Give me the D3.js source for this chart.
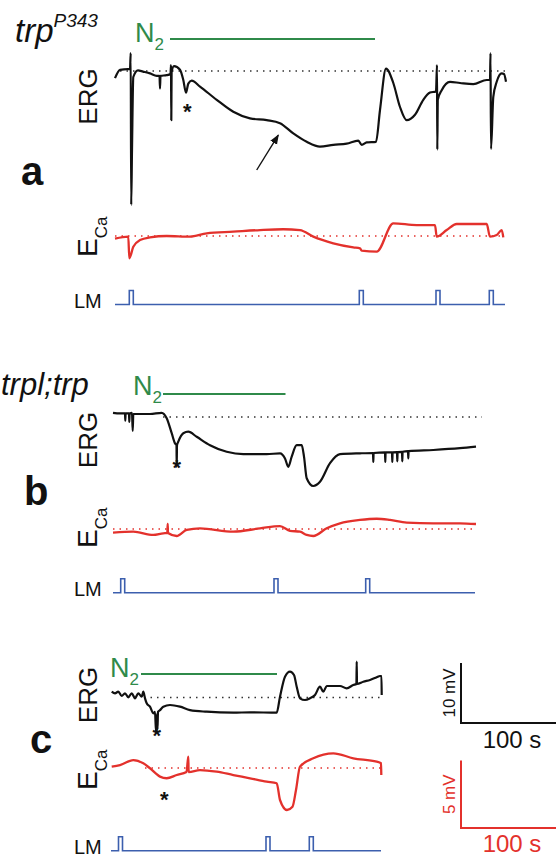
<!DOCTYPE html>
<html>
<head>
<meta charset="utf-8">
<script src="https://cdn.jsdelivr.net/npm/d3@7/dist/d3.min.js"></script>
<style>
  body { margin: 0; background: #fff; }
  svg { display: block; font-family: 'Liberation Sans', Arial, Helvetica, sans-serif; }
</style>
</head>
<body>
<svg id="fig" width="556" height="857"></svg>
<script>
// traces: [time (s), mV relative to the dotted baseline]
const ergA = [[0,-1.2],[5,0.2],[13,0.3],[15,0.3],[15.7,3.0],[16.2,-22.3],[17,-13.2],[18.3,-1.0],[23,0.1],[28,-0.1],[35,-0.4],[41.7,-0.8],[44.5,-0.8],[45,-2.9],[45.5,-0.8],[51.7,-0.7],[55.5,-0.5],[56,1.0],[56.3,-8.2],[56.6,-0.2],[59,0.8],[65,0.2],[68.3,-1.5],[71,-3.6],[73.3,-2.1],[76.7,-1.6],[85,-2.6],[101.7,-4.8],[118.3,-6.8],[135,-7.9],[151.7,-8.2],[165,-8.7],[178.3,-10.4],[191.7,-11.8],[205,-12.6],[218.3,-12.3],[231.7,-12.1],[243.3,-11.6],[246.7,-12.3],[251.7,-11.9],[261,-11.8],[265,-6.5],[271,0.4],[278.3,-2.0],[285,-6.0],[291.7,-8.2],[300,-7.3],[308.3,-4.8],[315,-3.6],[321,-3.4],[322,1.0],[322.3,-13.1],[322.8,-4.8],[326.7,-3.2],[335,-1.8],[345,-2.0],[358.3,-2.2],[371.7,-1.5],[375,-1.5],[375.5,3.0],[376,-13.0],[378.3,-4.3],[381.7,-1.8],[386.7,-0.4],[389,-0.5],[391,-1.8]];
const ecaA = [[0,-0.2],[13.3,-0.05],[14.3,-1.65],[18.3,-0.8],[25,-0.3],[35,-0.1],[51.7,0],[75,-0.05],[91.7,0.2],[118.3,0.32],[145,0.44],[168.3,0.5],[185,0.44],[198.3,-0.05],[218.3,-0.54],[238.3,-0.84],[245,-0.91],[246.7,-1.09],[261.7,-1.16],[278.3,0.94],[301.7,0.81],[320,0.81],[321.7,-0.05],[331.7,0.44],[341.7,0.89],[371.7,0.89],[375,-0.05],[381.7,0.07],[386.7,0.44],[388.3,-0.1]];
const lmA = [14.3, 244.3, 321, 374.3];

const ergB = [[0,0.7],[7,0.6],[12,0.6],[12.3,-0.6],[12.6,0.6],[16,0.6],[16.3,-0.8],[16.6,0.6],[19,0.7],[19.7,-2.3],[20.3,0.5],[37,0.5],[48.7,0.7],[53.7,-0.2],[58.7,-2.7],[62,-4.4],[63.5,-4.7],[63.7,-8.3],[64,-4.7],[65.3,-4.1],[70.3,-2.7],[75.3,-2.45],[83.7,-3.3],[97,-4.7],[113.7,-5.8],[130.3,-6.2],[153.7,-6.2],[167,-6.05],[172,-6.9],[175.3,-8.3],[178.7,-6.6],[183.7,-4.7],[188.7,-4.7],[191,-6.6],[193.7,-10.2],[200.3,-11.5],[207,-10.8],[217,-7.7],[227,-6.2],[247,-6.05],[260,-6.0],[260.3,-7.5],[260.6,-6.0],[272,-5.9],[272.3,-7.5],[272.6,-5.9],[279,-5.9],[279.3,-7.5],[279.6,-5.9],[284,-5.85],[284.3,-7.4],[284.6,-5.85],[289,-5.8],[289.3,-7.4],[289.6,-5.8],[295,-5.7],[295.3,-6.9],[295.6,-5.7],[320.3,-5.5],[347,-5.2],[363,-4.95]];
const ecaB = [[0,-0.27],[20.3,-0.2],[40.3,-0.44],[50.3,-0.32],[54.3,-0.3],[54.7,0.37],[55,-0.3],[63.7,-0.52],[73.7,-0.07],[87,0.05],[120.3,-0.2],[147,0.05],[167,0.22],[177,-0.13],[187,-0.2],[193.7,-0.44],[200.3,-0.52],[213.7,0.05],[227,0.42],[247,0.67],[263.7,0.76],[277,0.67],[293.7,0.47],[320.3,0.42],[347,0.42],[363,0.37]];
const lmB = [7.7, 161, 252.7];

const ergC = [[0.7,0.97],[4,0.7],[7.3,0.97],[10.7,0.25],[14,0.7],[17.3,0.03],[20.7,0.7],[24,-0.13],[27.3,0.7],[30.7,0.13],[32.3,0.97],[34,-0.13],[35.7,-0.97],[39,-1.53],[42.3,-2.63],[44,-2.4],[45,-5.7],[46,-2.75],[46.5,-5.25],[47,-2.4],[49,-2.1],[52.3,-1.53],[59,-1.25],[69,-1.53],[79,-2.1],[95.7,-2.37],[122.3,-2.53],[139,-2.47],[165.7,-2.53],[169,0.13],[174,3.47],[179,4.3],[183,3.75],[185.7,1.8],[189,-0.13],[194,-0.42],[199,-0.13],[204,0.42],[209,1.8],[212.3,0.97],[215.7,1.92],[229,1.92],[235.7,1.53],[242.3,2.08],[245.4,2.25],[245.7,5.97],[246,2.25],[252.3,2.63],[259,2.92],[265.7,3.37],[269,3.58],[270.5,3.58],[270.7,0.42]];
const ecaC = [[0.7,0.1],[9,0.22],[22.3,0.59],[32.3,0.35],[39,-0.02],[49,-0.64],[55.7,-0.76],[65.7,-0.52],[75.5,-0.3],[77.3,0.84],[77.6,-0.3],[89,-0.15],[105.7,-0.27],[122.3,-0.52],[139,-0.76],[155.7,-1.01],[165.7,-1.13],[169,-2.37],[176,-3.11],[181.5,-2.87],[185,-1.63],[189,0.1],[202.3,0.72],[222.3,1.09],[242.3,0.72],[265.7,0.47],[270,0.35],[270.3,-0.52]];
const lmC = [7.5, 155, 198.3];

// N2 application [start, end] s
const n2A = [55, 260];
const n2B = [50, 172.5];
const n2C = [30, 166];

// asterisks: [trace, t, mV]
const starsA = [['erg', 72.3, -5.95]];
const starsB = [['erg', 63.7, -7.7]];
const starsC = [['erg', 45.7, -5.5], ['eca', 53.3, -2.0]];

const PX_PER_S = 1, ERG_PX = 6, ECA_PX = 13.5, LM_PX = 14, LM_W = 4;
const BLACK = '#111', RED = '#e3312c', BLUE = '#3c5fae', GREEN = '#2f8a4a';

const panels = [
  { id: 'a', erg: ergA, eca: ecaA, lm: lmA, lmEnd: 390, n2: n2A, stars: starsA,
    x0: 115, ergY: 71, ecaY: 236, lmY: 304.5,
    ergDots: [5, 390], ecaDots: [0, 390], n2Y: 39, nX: 135, nBase: 42,
    lblY: 185, lblX: 21, ergLbl: 96.5, ecaLbl: 257 },
  { id: 'b', erg: ergB, eca: ecaB, lm: lmB, lmEnd: 362, n2: n2B, stars: starsB,
    x0: 113, ergY: 417, ecaY: 529, lmY: 592.7,
    ergDots: [50, 369], ecaDots: [0, 364], n2Y: 394, nX: 133, nBase: 395,
    lblY: 505, lblX: 24, ergLbl: 440, ecaLbl: 548 },
  { id: 'c', erg: ergC, eca: ecaC, lm: lmC, lmEnd: 270, n2: n2C, stars: starsC,
    x0: 111, ergY: 697.5, ecaY: 768, lmY: 850.7,
    ergDots: [33, 272], ecaDots: [34, 271], n2Y: 674, nX: 110, nBase: 677,
    lblY: 753, lblX: 30, ergLbl: 695, ecaLbl: 790 }
];

const svg = d3.select('#fig');

panels.forEach(p => {
  const x = d3.scaleLinear().domain([0, 100]).range([p.x0, p.x0 + 100 * PX_PER_S]);
  const yE = d3.scaleLinear().domain([0, 10]).range([p.ergY, p.ergY - 10 * ERG_PX]);
  const yC = d3.scaleLinear().domain([0, 5]).range([p.ecaY, p.ecaY - 5 * ECA_PX]);
  const yL = d3.scaleLinear().domain([0, 1]).range([p.lmY, p.lmY - LM_PX]);
  const g = svg.append('g').attr('class', 'panel-' + p.id);

  // dotted baselines
  g.append('line')
    .attr('x1', x(p.ergDots[0])).attr('x2', x(p.ergDots[1]))
    .attr('y1', yE(0)).attr('y2', yE(0))
    .attr('stroke', '#333').attr('stroke-width', 1.5)
    .attr('stroke-dasharray', '1.5 5');
  g.append('line')
    .attr('x1', x(p.ecaDots[0])).attr('x2', x(p.ecaDots[1]))
    .attr('y1', yC(0)).attr('y2', yC(0))
    .attr('stroke', RED).attr('stroke-width', 1.5)
    .attr('stroke-dasharray', '1.5 5');

  const lineE = d3.line().x(d => x(d[0])).y(d => yE(d[1])).curve(d3.curveMonotoneX);
  const lineC = d3.line().x(d => x(d[0])).y(d => yC(d[1])).curve(d3.curveMonotoneX);
  const lineL = d3.line().x(d => x(d[0])).y(d => yL(d[1]));

  g.append('path').attr('d', lineE(p.erg))
    .attr('fill', 'none').attr('stroke', BLACK).attr('stroke-width', 2.2)
    .attr('stroke-linejoin', 'round');
  g.append('path').attr('d', lineC(p.eca))
    .attr('fill', 'none').attr('stroke', RED).attr('stroke-width', 2.3)
    .attr('stroke-linejoin', 'round');

  // light monitor: step trace from pulse onsets
  const lmPts = [[0, 0]];
  p.lm.forEach(t => { lmPts.push([t, 0], [t, 1], [t + LM_W, 1], [t + LM_W, 0]); });
  lmPts.push([p.lmEnd, 0]);
  g.append('path').attr('d', lineL(lmPts))
    .attr('fill', 'none').attr('stroke', BLUE).attr('stroke-width', 1.6);

  // N2 bar
  g.append('line')
    .attr('x1', x(p.n2[0])).attr('x2', x(p.n2[1]))
    .attr('y1', p.n2Y).attr('y2', p.n2Y)
    .attr('stroke', GREEN).attr('stroke-width', 1.8);
  const nt = g.append('text').attr('x', p.nX).attr('y', p.nBase)
    .attr('fill', GREEN).style('font-size', '27px');
  nt.append('tspan').text('N');
  nt.append('tspan').attr('dy', 8).style('font-size', '17px').text('2');

  // asterisks
  p.stars.forEach(s => {
    const yy = s[0] === 'erg' ? yE(s[2]) : yC(s[2]);
    g.append('text').attr('x', x(s[1])).attr('y', yy + 12)
      .attr('text-anchor', 'middle').style('font-size', '22px')
      .style('font-weight', 'bold').attr('fill', BLACK).text('*');
  });

  // row labels
  g.append('text').attr('transform', `translate(97,${p.ergLbl}) rotate(-90)`)
    .attr('text-anchor', 'middle').style('font-size', '26px').attr('fill', BLACK).text('ERG');
  const ec = g.append('text').attr('transform', `translate(97,${p.ecaLbl}) rotate(-90)`)
    .style('font-size', '28px').attr('fill', BLACK);
  ec.append('tspan').text('E');
  ec.append('tspan').attr('dy', 10).style('font-size', '17px').text('Ca');
  g.append('text').attr('x', 74).attr('y', p.lmY + 3)
    .style('font-size', '20px').attr('fill', BLACK).text('LM');
  g.append('text').attr('x', p.lblX).attr('y', p.lblY)
    .style('font-size', '40px').style('font-weight', 'bold').attr('fill', BLACK).text(p.id);

  if (p.id === 'a') {
    const arrowFrom = [141.7, -16.5], arrowTo = [163.3, -10.7];
    svg.append('defs').append('marker').attr('id', 'ah')
      .attr('viewBox', '0 0 10 10').attr('refX', 9).attr('refY', 5)
      .attr('markerWidth', 7).attr('markerHeight', 7).attr('orient', 'auto')
      .append('path').attr('d', 'M0,1 L10,5 L0,9 Z').attr('fill', BLACK);
    g.append('line')
      .attr('x1', x(arrowFrom[0])).attr('y1', yE(arrowFrom[1]))
      .attr('x2', x(arrowTo[0])).attr('y2', yE(arrowTo[1]))
      .attr('stroke', BLACK).attr('stroke-width', 1.4).attr('marker-end', 'url(#ah)');
  }
});

// genotype titles
const t1 = svg.append('text').attr('x', 15).attr('y', 42)
  .style('font-size', '33px').style('font-style', 'italic').attr('fill', BLACK);
t1.append('tspan').text('trp');
t1.append('tspan').attr('dy', -15).style('font-size', '19px').text('P343');
svg.append('text').attr('x', 1).attr('y', 395)
  .style('font-size', '31px').style('font-style', 'italic').attr('fill', BLACK).text('trpl;trp');

// scale bars
const sx = d3.scaleLinear().domain([0, 100]).range([461, 461 + 100 * PX_PER_S]);
const sE = d3.scaleLinear().domain([0, 10]).range([723, 723 - 10 * ERG_PX]);
const sC = d3.scaleLinear().domain([0, 5]).range([828, 828 - 5 * ECA_PX]);
[[sE, 10, BLACK, '10 mV', 748], [sC, 5, RED, '5 mV', 852]].forEach(([sy, v, col, lab, ty]) => {
  svg.append('path')
    .attr('d', `M${sx(0)},${sy(v)}V${sy(0)}H${sx(100)}`)
    .attr('fill', 'none').attr('stroke', col).attr('stroke-width', 2);
  svg.append('text')
    .attr('transform', `translate(455,${(sy(0) + sy(v)) / 2}) rotate(-90)`)
    .attr('text-anchor', 'middle').style('font-size', '17px').attr('fill', col).text(lab);
  svg.append('text').attr('x', 512).attr('y', ty).attr('text-anchor', 'middle')
    .style('font-size', '24px').attr('fill', col).text('100 s');
});
</script>
</body>
</html>
